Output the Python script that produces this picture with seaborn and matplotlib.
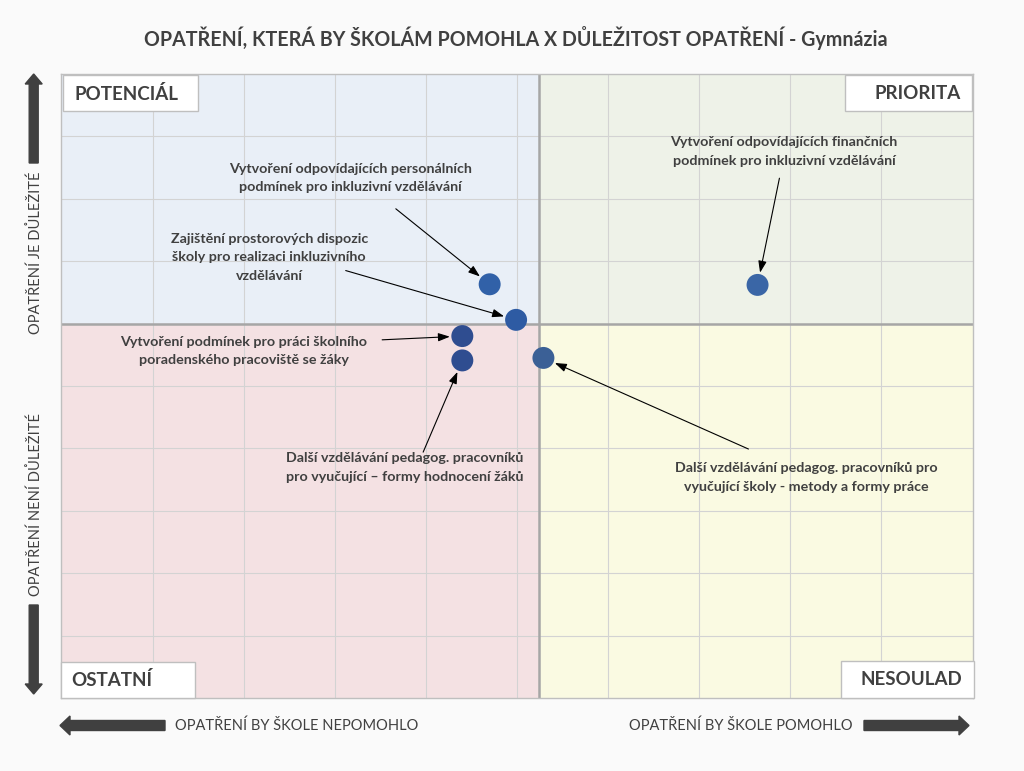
import matplotlib
matplotlib.use("Agg")
import matplotlib.pyplot as plt
from matplotlib.patches import Rectangle, FancyArrow
import seaborn as sns
import pandas as pd

# data (grid units, 0-10 on both axes)
measures = [
    "Vytvoření odpovídajících personálních\npodmínek pro inkluzivní vzdělávání",
    "Zajištění prostorových dispozic\nškoly pro realizaci inkluzivního\nvzdělávání",
    "Vytvoření podmínek pro práci školního\nporadenského pracoviště se žáky",
    "Další vzdělávání pedagog. pracovníků\npro vyučující – formy hodnocení žáků",
    "Další vzdělávání pedagog. pracovníků pro\nvyučující školy - metody a formy práce",
    "Vytvoření odpovídajících finančních\npodmínek pro inkluzivní vzdělávání",
]
pomohlo = [4.70, 4.99, 4.40, 4.40, 5.29, 7.64]
dulezitost = [6.63, 6.06, 5.80, 5.41, 5.45, 6.62]
x_mid = 5.24
y_mid = 6.0
quadrants = ["POTENCIÁL", "PRIORITA", "OSTATNÍ", "NESOULAD"]

df = pd.DataFrame({"opatreni": measures, "x": pomohlo, "y": dulezitost})

sns.set_style("white")
plt.rcParams["font.family"] = ["Lato", "DejaVu Sans"]

W, H = 1024, 771
fig = plt.figure(figsize=(W / 100, H / 100), dpi=100, facecolor="#FAFAFA")


def px(x, y):
    return x / W, 1 - y / H


ax = fig.add_axes([61.4 / W, 1 - 698 / H, 911.2 / W, 624 / H])
ax.set_xlim(0, 10)
ax.set_ylim(0, 10)

# quadrant backgrounds
ax.add_patch(Rectangle((0, y_mid), x_mid, 10 - y_mid, color="#E9EFF7", zorder=0))
ax.add_patch(Rectangle((x_mid, y_mid), 10 - x_mid, 10 - y_mid, color="#EEF2E8", zorder=0))
ax.add_patch(Rectangle((0, 0), x_mid, y_mid, color="#F4E1E3", zorder=0))
ax.add_patch(Rectangle((x_mid, 0), 10 - x_mid, y_mid, color="#FAFAE2", zorder=0))

for k in range(1, 10):
    ax.axvline(k, color="#D3D3D3", lw=0.8, zorder=1)
    ax.axhline(k, color="#D3D3D3", lw=0.8, zorder=1)
ax.axvline(x_mid, color="#A6A6A6", lw=1.8, zorder=2)
ax.axhline(y_mid, color="#A6A6A6", lw=1.8, zorder=2)

for s in ax.spines.values():
    s.set_color("#BFBFBF")
    s.set_linewidth(1.0)
ax.set_xticks([])
ax.set_yticks([])
ax.set_xlabel("")
ax.set_ylabel("")

pal = ["#3161A8", "#2E5BA3", "#2F4D90", "#2F4D90", "#3B6096", "#3A66A6"]
sns.scatterplot(data=df, x="x", y="y", hue="opatreni", palette=pal, s=250,
                edgecolor="none", legend=False, ax=ax, zorder=5)

# annotation labels: text centre and arrow start
txt_pos = [(3.17, 8.33), (2.28, 7.06), (2.00, 5.56), (3.77, 3.69), (8.17, 3.53), (7.93, 8.76)]
arr_start = [(3.67, 7.84), (3.12, 6.85), (3.52, 5.74), (3.97, 3.94), (7.54, 3.99), (7.88, 8.33)]
for i, m in enumerate(measures):
    ax.text(txt_pos[i][0], txt_pos[i][1], m, ha="center", va="center", fontsize=10.3,
            fontweight="bold", color="#404040", linespacing=1.65, zorder=6)
    ax.annotate("", xy=(pomohlo[i], dulezitost[i]), xytext=arr_start[i],
                arrowprops=dict(arrowstyle="-|>,head_length=0.7,head_width=0.25",
                                color="black", lw=0.8, shrinkA=0, shrinkB=9),
                zorder=6)

# quadrant name boxes (axes fraction)
boxes = [(0.002, 0.940, 0.148, 0.058), (0.860, 0.941, 0.139, 0.058),
         (0.0, 0.0, 0.147, 0.058), (0.856, 0.0, 0.146, 0.059)]
lab_xy = [(0.014, 0.968, "left"), (0.987, 0.968, "right"),
          (0.011, 0.029, "left"), (0.989, 0.029, "right")]
for (bx, by, bw, bh), (tx, ty, ha), q in zip(boxes, lab_xy, quadrants):
    ax.add_patch(Rectangle((bx, by), bw, bh, transform=ax.transAxes, facecolor="white",
                           edgecolor="#BFBFBF", lw=1.0, zorder=7, clip_on=False))
    ax.text(tx, ty, q, transform=ax.transAxes, ha=ha, va="center", fontsize=13.5,
            fontweight="bold", color="#404040", zorder=8)

# title
fig.text(*px(515.5, 38), "OPATŘENÍ, KTERÁ BY ŠKOLÁM POMOHLA X DŮLEŽITOST OPATŘENÍ - Gymnázia",
         ha="center", va="center", fontsize=14.1, fontweight="bold", color="#404040")

# side labels and thick arrows
fig.text(*px(35.5, 253), "OPATŘENÍ JE DŮLEŽITÉ", rotation=90, ha="center", va="center",
         fontsize=10.5, color="#404040")
fig.text(*px(35.5, 505), "OPATŘENÍ NENÍ DŮLEŽITÉ", rotation=90, ha="center", va="center",
         fontsize=10.5, color="#404040")
fig.text(*px(175, 726), "OPATŘENÍ BY ŠKOLE NEPOMOHLO", ha="left", va="center",
         fontsize=10.5, color="#404040")
fig.text(*px(853, 726), "OPATŘENÍ BY ŠKOLE POMOHLO", ha="right", va="center",
         fontsize=10.5, color="#404040")

arrow_kw = dict(transform=fig.dpi_scale_trans, color="#404040", length_includes_head=True)
fig.add_artist(FancyArrow(0.337, (H - 163) / 100, 0, 0.89, width=0.09, head_width=0.17,
                          head_length=0.10, **arrow_kw))
fig.add_artist(FancyArrow(0.337, (H - 605) / 100, 0, -0.89, width=0.09, head_width=0.17,
                          head_length=0.10, **arrow_kw))
fig.add_artist(FancyArrow(1.65, (H - 725.5) / 100, -1.05, 0, width=0.10, head_width=0.19,
                          head_length=0.10, **arrow_kw))
fig.add_artist(FancyArrow(8.64, (H - 725.5) / 100, 1.05, 0, width=0.10, head_width=0.19,
                          head_length=0.10, **arrow_kw))

fig.savefig("out.png", dpi=100, facecolor=fig.get_facecolor())
